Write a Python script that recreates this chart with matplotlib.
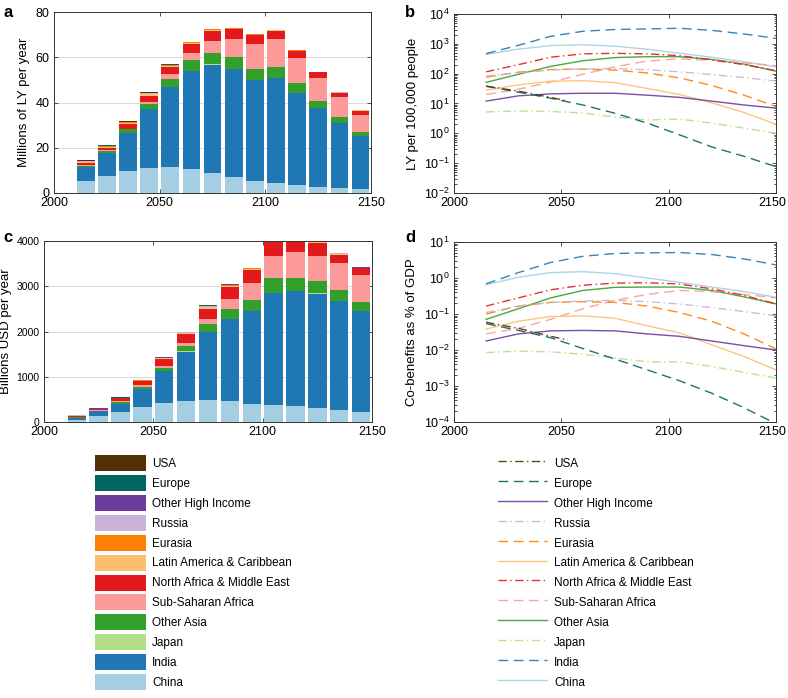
import numpy as np
import matplotlib
matplotlib.use("Agg")
import matplotlib.pyplot as plt
from matplotlib.ticker import LogLocator, NullFormatter
from matplotlib.transforms import ScaledTranslation

plt.rcParams['font.family'] = ['Liberation Sans', 'DejaVu Sans']

# regions, stacking order bottom -> top
regions = ["China", "India", "Japan", "Other Asia", "Sub-Saharan Africa",
           "North Africa & Middle East", "Latin America & Caribbean", "Eurasia",
           "Russia", "Other High Income", "Europe", "USA"]
colors = ["#a6cee3", "#1f78b4", "#b2df8a", "#33a02c", "#fb9a99", "#e31a1c",
          "#fdbf6f", "#ff7f00", "#cab2d6", "#6a3d9a", "#01665e", "#543005"]
styles = ["-", (0, (7, 4)), (0, (6, 2.5, 1, 2.5)), "-", (0, (7, 4)),
          (0, (6, 2.5, 1, 2.5)), "-", (0, (7, 4)), (0, (6, 2.5, 1, 2.5)),
          "-", (0, (7, 4)), (0, (6, 2.5, 1, 2.5))]

bar_years = [2015, 2025, 2035, 2045, 2055, 2065, 2075, 2085, 2095, 2105, 2115, 2125, 2135, 2145]

# panel a: millions of life years per year
china_a = [5.4, 7.5, 9.6, 11.2, 11.5, 10.5, 9.0, 7.2, 5.4, 4.6, 3.7, 2.8, 2.2, 1.6]
india_a = [6.0, 10.2, 16.9, 25.8, 35.3, 43.5, 47.7, 47.4, 44.7, 46.4, 40.5, 34.8, 28.7, 23.4]
japan_a = [0.1, 0.1, 0.1, 0.1, 0.1, 0.1, 0.1, 0.1, 0.05, 0.05, 0.05, 0.05, 0.05, 0.05]
oasia_a = [0.5, 0.6, 1.5, 2.4, 3.4, 4.5, 5.0, 5.2, 4.5, 4.8, 4.3, 3.2, 2.7, 2.1]
ssa_a = [0.4, 0.4, 0.4, 0.7, 2.1, 3.4, 5.6, 8.2, 11.1, 12.2, 11.3, 10.2, 8.8, 7.5]
name_a = [1.0, 1.3, 1.9, 2.8, 3.2, 3.9, 4.3, 4.2, 4.0, 3.6, 2.9, 2.3, 1.8, 1.8]
lac_a = [0.3, 0.4, 0.5, 0.6, 0.6, 0.5, 0.4, 0.35, 0.3, 0.25, 0.2, 0.15, 0.1, 0.08]
eurasia_a = [0.2, 0.25, 0.3, 0.3, 0.3, 0.25, 0.2, 0.15, 0.12, 0.1, 0.08, 0.06, 0.05, 0.03]
russia_a = [0.1, 0.1, 0.1, 0.1, 0.1, 0.1, 0.1, 0.08, 0.07, 0.06, 0.05, 0.04, 0.03, 0.03]
ohi_a = [0.1, 0.12, 0.15, 0.15, 0.15, 0.15, 0.15, 0.12, 0.1, 0.1, 0.08, 0.06, 0.05, 0.04]
europe_a = [0.1, 0.1, 0.1, 0.08, 0.06, 0.05, 0.04, 0.03, 0.02, 0.01, 0.01, 0.005, 0.003, 0.002]
usa_a = [0.2, 0.25, 0.25, 0.2, 0.15, 0, 0, 0, 0, 0, 0, 0, 0, 0]

# panel c: billions USD per year
china_c = [52, 127, 217, 336, 419, 471, 486, 456, 396, 374, 344, 307, 262, 217]
india_c = [45, 113, 179, 389, 702, 1084, 1495, 1819, 2059, 2482, 2546, 2533, 2418, 2238]
japan_c = [2, 2, 3, 3, 4, 4, 4, 4, 3, 3, 3, 3, 2, 2]
oasia_c = [5, 10, 54, 53, 75, 127, 173, 225, 245, 314, 300, 280, 235, 200]
ssa_c = [3, 5, 15, 44, 38, 60, 127, 215, 365, 485, 560, 550, 595, 585]
name_c = [22, 25, 55, 75, 149, 202, 223, 275, 300, 330, 340, 290, 190, 160]
lac_c = [8, 8, 8, 14, 18, 20, 25, 20, 15, 20, 15, 12, 12, 5]
eurasia_c = [5, 5, 4, 8, 10, 10, 15, 12, 10, 12, 10, 8, 8, 3]
russia_c = [3, 3, 2, 4, 5, 5, 10, 8, 7, 8, 6, 5, 5, 2]
ohi_c = [3, 4, 3, 5, 7, 7, 13, 10, 9, 12, 10, 8, 8, 3]
europe_c = [3, 3, 3, 3, 3, 3, 5, 4, 3, 3, 2, 2, 2, 1]
usa_c = [6, 8, 5, 5, 7, 0, 0, 0, 0, 0, 0, 0, 0, 0]

line_years = [2015, 2030, 2045, 2060, 2075, 2090, 2105, 2120, 2135, 2150]
usa_years = [2015, 2030, 2045, 2053]

# panel b: LY per 100,000 people
china_b = [440, 660, 870, 930, 830, 660, 480, 355, 250, 170]
india_b = [470, 890, 1780, 2630, 3020, 3160, 3310, 2820, 2140, 1510]
japan_b = [5.2, 5.6, 5.4, 4.8, 3.5, 2.8, 3.0, 2.2, 1.5, 1.0]
oasia_b = [51, 95, 175, 270, 345, 370, 370, 300, 210, 120]
ssa_b = [20, 30, 52, 95, 170, 265, 315, 280, 230, 185]
name_b = [115, 200, 355, 460, 480, 460, 400, 290, 200, 125]
lac_b = [28, 42, 56, 58, 50, 32, 20, 10.5, 5.0, 2.0]
eurasia_b = [76, 112, 138, 141, 132, 105, 72, 40, 19, 7.9]
russia_b = [83, 107, 132, 145, 148, 135, 115, 93, 74, 56]
ohi_b = [12, 18, 21, 22, 22, 19, 16, 12, 8.9, 7.0]
europe_b = [38, 24, 15, 8.9, 4.7, 2.2, 0.89, 0.35, 0.17, 0.076]
usa_b = [38, 26, 16, 12]

# panel d: co-benefits as % of GDP
china_d = [0.65, 1.05, 1.41, 1.5, 1.32, 1.0, 0.76, 0.56, 0.42, 0.29]
india_d = [0.69, 1.41, 2.7, 4.0, 4.8, 5.0, 5.1, 4.5, 3.4, 2.3]
japan_d = [0.0085, 0.0093, 0.0089, 0.0076, 0.006, 0.0047, 0.0047, 0.0035, 0.0024, 0.00166]
oasia_d = [0.071, 0.14, 0.28, 0.45, 0.55, 0.56, 0.56, 0.45, 0.30, 0.19]
ssa_d = [0.028, 0.04, 0.071, 0.14, 0.24, 0.35, 0.45, 0.42, 0.35, 0.28]
name_d = [0.166, 0.28, 0.47, 0.63, 0.72, 0.74, 0.68, 0.5, 0.33, 0.19]
lac_d = [0.038, 0.063, 0.085, 0.089, 0.076, 0.047, 0.030, 0.014, 0.0066, 0.0028]
eurasia_d = [0.1, 0.166, 0.21, 0.22, 0.21, 0.166, 0.11, 0.063, 0.028, 0.0107]
russia_d = [0.11, 0.166, 0.21, 0.23, 0.24, 0.22, 0.19, 0.15, 0.117, 0.089]
ohi_d = [0.0178, 0.028, 0.034, 0.035, 0.034, 0.028, 0.024, 0.0178, 0.0132, 0.010]
europe_d = [0.054, 0.035, 0.022, 0.011, 0.0056, 0.0028, 0.0014, 0.00063, 0.00025, 0.000089]
usa_d = [0.059, 0.040, 0.024, 0.019]

data_a = [china_a, india_a, japan_a, oasia_a, ssa_a, name_a, lac_a, eurasia_a, russia_a, ohi_a, europe_a, usa_a]
data_c = [china_c, india_c, japan_c, oasia_c, ssa_c, name_c, lac_c, eurasia_c, russia_c, ohi_c, europe_c, usa_c]
data_b = [china_b, india_b, japan_b, oasia_b, ssa_b, name_b, lac_b, eurasia_b, russia_b, ohi_b, europe_b, usa_b]
data_d = [china_d, india_d, japan_d, oasia_d, ssa_d, name_d, lac_d, eurasia_d, russia_d, ohi_d, europe_d, usa_d]

fig = plt.figure(figsize=(7.88, 6.98), dpi=100)
ax_a = fig.add_axes([0.0685, 0.7235, 0.4025, 0.2593])
ax_b = fig.add_axes([0.576, 0.7235, 0.409, 0.2565])
ax_c = fig.add_axes([0.0558, 0.3954, 0.4163, 0.2593])
ax_d = fig.add_axes([0.576, 0.3954, 0.409, 0.2579])


def style_axes(ax):
    ax.set_xlim(2000, 2150)
    ax.set_xticks([2000, 2050, 2100, 2150])
    ax.tick_params(direction='in', top=True, right=True, labelsize=9,
                   length=3, width=0.6, color='#333333', pad=3)
    ax.tick_params(which='minor', direction='in', right=True, length=1.8, width=0.5)
    for s in ax.spines.values():
        s.set_linewidth(0.7)
        s.set_color('#333333')


def stacked(ax, data, ylim, yticks, ylabel):
    bottom = np.zeros(len(bar_years))
    handles = []
    for vals, col in zip(data, colors):
        h = ax.bar(bar_years, vals, width=8.4, bottom=bottom, color=col,
                   edgecolor='none', linewidth=0, zorder=2)
        handles.append(h)
        bottom += np.array(vals)
    ax.set_ylim(*ylim)
    ax.set_yticks(yticks)
    ax.yaxis.grid(True, color='#dcdcdc', linewidth=0.8, zorder=0)
    ax.set_axisbelow(True)
    ax.set_ylabel(ylabel, fontsize=9.5)
    style_axes(ax)
    return handles


def lines(ax, data, ylim, ylabel):
    handles = []
    for i, (vals, col, ls) in enumerate(zip(data, colors, styles)):
        yrs = usa_years if regions[i] == "USA" else line_years
        h, = ax.plot(yrs, vals, color=col, linestyle=ls, linewidth=1.0, alpha=0.9)
        handles.append(h)
    ax.set_yscale('log')
    ax.set_ylim(*ylim)
    ax.yaxis.set_major_locator(LogLocator(base=10, numticks=12))
    ax.yaxis.set_minor_locator(LogLocator(base=10, subs=np.arange(2, 10), numticks=12))
    ax.yaxis.set_minor_formatter(NullFormatter())
    ax.set_ylabel(ylabel, fontsize=9.5)
    style_axes(ax)
    # keep the last year label inside the figure
    last = ax.get_xticklabels()[-1]
    last.set_transform(last.get_transform() + ScaledTranslation(-3 / 72, 0, fig.dpi_scale_trans))
    return handles


bar_handles = stacked(ax_a, data_a, (0, 80), [0, 20, 40, 60, 80], "Millions of LY per year")
stacked(ax_c, data_c, (0, 4000), [0, 1000, 2000, 3000, 4000], "Billions USD per year")
ax_c.tick_params(axis='y', labelsize=7.5)
ax_c.yaxis.set_label_coords(-0.097, 0.5)
line_handles = lines(ax_b, data_b, (1e-2, 1e4), "LY per 100,000 people")
lines(ax_d, data_d, (1e-4, 1e1), "Co-benefits as % of GDP")

for lab, x, y in [("a", 0.004, 0.993), ("b", 0.514, 0.993), ("c", 0.004, 0.671), ("d", 0.514, 0.671)]:
    fig.text(x, y, lab, fontsize=12, fontweight='bold', va='top', ha='left')

leg_kw = dict(loc='upper left', frameon=False, fontsize=8.5, handleheight=1.71,
              labelspacing=0.33, borderaxespad=0, borderpad=0)
fig.legend(bar_handles[::-1], regions[::-1], bbox_to_anchor=(0.1206, 0.348),
           handlelength=4.32, handletextpad=0.5, **leg_kw)
fig.legend(line_handles[::-1], regions[::-1], bbox_to_anchor=(0.632, 0.348),
           handlelength=4.15, handletextpad=0.6, **leg_kw)

fig.savefig("out.png", dpi=100)
